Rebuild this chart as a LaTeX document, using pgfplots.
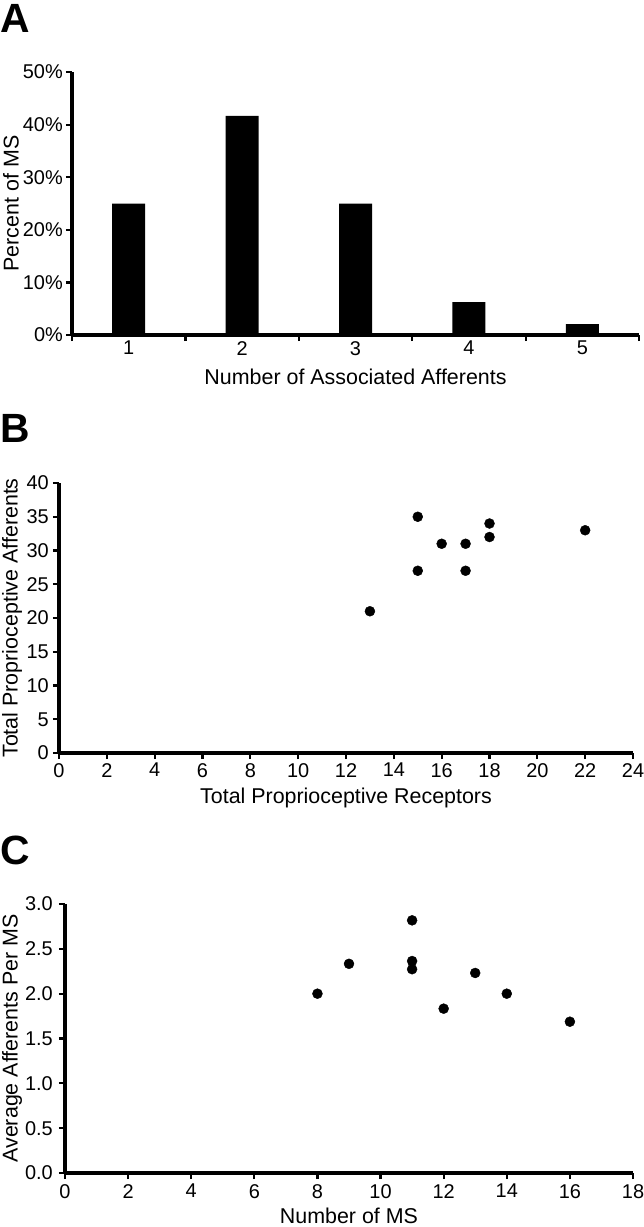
\documentclass[border=0pt]{standalone}
\usepackage{fontspec}
\setmainfont{Liberation Sans}
\usepackage{pgfplots}
\pgfplotsset{compat=1.18}
\pgfplotsset{
 panel/.style={
  scale only axis,
  axis x line=bottom, axis y line=left,
  axis line style={-, line width=3.2bp, black},
  tick align=outside,
  major tick length=6bp,
  minor tick length=6bp,
  every tick/.style={black, line width=2.2bp},
  /pgf/number format/assume math mode=true,
  tick label style={font=\fontsize{20}{24}\selectfont, inner sep=0pt, text=black},
  label style={font=\fontsize{21.5}{26}\selectfont, inner sep=0pt, text=black},
  clip=false,
  anchor=south west,
 },
}
\begin{document}
\begin{tikzpicture}
\path[use as bounding box] (0,0) rectangle (644bp,-1227bp);
\node[anchor=north west, inner sep=0pt, font=\fontsize{41}{44}\selectfont\bfseries] at (0bp,-4bp) {A};
\node[anchor=north west, inner sep=0pt, font=\fontsize{41}{44}\selectfont\bfseries] at (0bp,-414bp) {B};
\node[anchor=north west, inner sep=0pt, font=\fontsize{41}{44}\selectfont\bfseries] at (0bp,-836bp) {C};

% Panel A
\begin{axis}[panel, at={(72bp,-335bp)}, width=567bp, height=263bp,
 xmin=0.5, xmax=5.5, ymin=0, ymax=50,
 ybar, bar width=33bp,
 xtick={0.5,1.5,2.5,3.5,4.5,5.5}, xticklabels={},
 extra x ticks={1,2,3,4,5}, extra x tick labels={1,2,3,4,5},
 extra x tick style={major tick length=0pt},
 ytick={0,10,20,30,40,50}, yticklabels={0\%,10\%,20\%,30\%,40\%,50\%},
 xticklabel shift=6bp, yticklabel shift=3bp,
 xlabel={Number of Associated Afferents}, ylabel={Percent of MS},
 xlabel style={at={(axis description cs:0.5,-0.1293)}, anchor=north},
 ylabel style={at={(axis description cs:-0.1217,0.5)}, anchor=north},
]
\addplot[fill=black, draw=none] coordinates {(1,25) (2,41.67) (3,25) (4,6.25) (5,2.08)};
\end{axis}

% Panel B
\begin{axis}[panel, at={(59bp,-753bp)}, width=574bp, height=270bp,
 xmin=0, xmax=24, ymin=0, ymax=40,
 xtick={0,2,...,24}, ytick={0,5,...,40},
 xticklabel shift=4bp, yticklabel shift=4bp,
 xlabel={Total Proprioceptive Receptors}, ylabel={Total Proprioceptive Afferents},
 xlabel style={at={(axis description cs:0.5,-0.1296)}, anchor=north},
 ylabel style={at={(axis description cs:-0.0993,0.5)}, anchor=north},
]
\addplot[only marks, mark=*, mark size=5bp, black] coordinates {
(13,21) (15,35) (15,27) (16,31) (17,31) (17,27) (18,34) (18,32) (22,33)};
\end{axis}

% Panel C
\begin{axis}[panel, at={(65bp,-1173bp)}, width=568bp, height=269bp,
 xmin=0, xmax=18, ymin=0, ymax=3,
 xtick={0,2,...,18}, ytick={0,0.5,...,3},
 yticklabel style={/pgf/number format/.cd, fixed, fixed zerofill, precision=1},
 xticklabel shift=5bp, yticklabel shift=6bp,
 xlabel={Number of MS}, ylabel={Average Afferents Per MS},
 xlabel style={at={(axis description cs:0.5,-0.1301)}, anchor=north},
 ylabel style={at={(axis description cs:-0.1109,0.5)}, anchor=north},
]
\addplot[only marks, mark=*, mark size=5bp, black] coordinates {
(8,2.0) (9,2.333) (11,2.818) (11,2.364) (11,2.273) (12,1.833) (13,2.231) (14,2.0) (16,1.6875)};
\end{axis}
\end{tikzpicture}
\end{document}
